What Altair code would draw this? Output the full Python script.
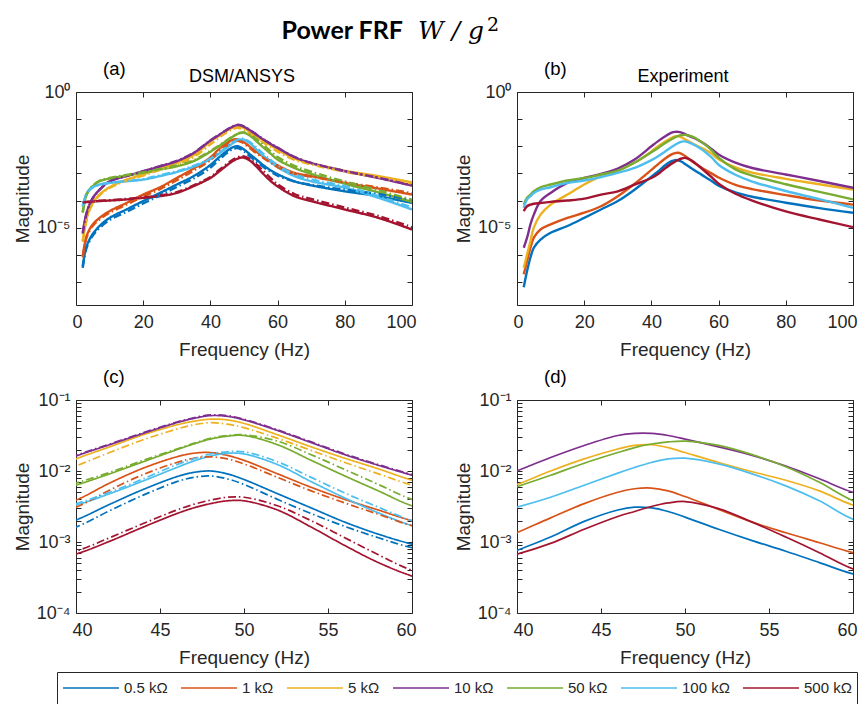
import altair as alt
import pandas as pd

# ---------------- data (log10 of magnitude) -------------
SERIES = ["0.5 kΩ", "1 kΩ", "5 kΩ", "10 kΩ", "50 kΩ", "100 kΩ", "500 kΩ"]
COLORS = ["#0072BD", "#D95319", "#EDB120", "#7E2F8E", "#77AC30", "#4DBEEE", "#A2142F"]

FREQ = [2, 3, 4, 5, 7, 10, 15, 20, 25, 30, 35,
        40, 42, 44, 46, 47, 48, 49, 50, 52, 54, 56, 58, 60,
        65, 70, 80, 90, 100]

# DSM model (solid)
DSM_05K = [-6.42, -5.74, -5.44, -5.23, -4.94, -4.64, -4.33, -4.02, -3.72, -3.41, -3.10,
           -2.69, -2.47, -2.26, -2.08, -2.02, -2.00, -2.04, -2.12, -2.32, -2.52, -2.72, -2.89, -3.03,
           -3.29, -3.44, -3.66, -3.84, -4.09]
DSM_1K = [-6.05, -5.37, -5.07, -4.88, -4.64, -4.39, -4.09, -3.78, -3.51, -3.17, -2.82,
          -2.41, -2.17, -1.96, -1.80, -1.75, -1.74, -1.78, -1.85, -2.04, -2.23, -2.40, -2.55, -2.70,
          -2.98, -3.10, -3.35, -3.56, -3.78]
DSM_5K = [-5.50, -4.76, -4.33, -4.09, -3.78, -3.51, -3.23, -3.04, -2.82, -2.61, -2.33,
          -1.83, -1.66, -1.49, -1.35, -1.30, -1.27, -1.28, -1.33, -1.49, -1.66, -1.82, -1.97, -2.13,
          -2.45, -2.62, -2.90, -3.10, -3.33]
DSM_10K = [-5.19, -4.52, -4.15, -3.90, -3.60, -3.29, -3.10, -2.92, -2.74, -2.55, -2.25,
           -1.79, -1.63, -1.47, -1.32, -1.26, -1.22, -1.23, -1.28, -1.43, -1.60, -1.77, -1.92, -2.06,
           -2.40, -2.62, -2.92, -3.17, -3.45]
DSM_50K = [-4.45, -3.84, -3.60, -3.47, -3.29, -3.19, -3.08, -2.98, -2.86, -2.74, -2.55,
           -2.20, -2.04, -1.87, -1.70, -1.62, -1.55, -1.51, -1.50, -1.63, -1.85, -2.07, -2.28, -2.49,
           -2.80, -3.02, -3.38, -3.70, -4.05]
DSM_100K = [-4.20, -3.78, -3.60, -3.51, -3.41, -3.35, -3.29, -3.23, -3.10, -2.95, -2.75,
            -2.48, -2.32, -2.14, -1.95, -1.86, -1.79, -1.75, -1.76, -1.91, -2.15, -2.38, -2.59, -2.77,
            -3.10, -3.29, -3.53, -3.90, -4.33]
DSM_500K = [-4.09, -4.06, -4.05, -4.04, -4.02, -4.00, -3.96, -3.90, -3.84, -3.72, -3.47,
            -3.17, -2.99, -2.79, -2.60, -2.52, -2.46, -2.42, -2.42, -2.55, -2.79, -3.05, -3.29, -3.48,
            -3.84, -4.02, -4.33, -4.64, -5.07]

# ANSYS model (dash-dot)
ANS_05K = [-6.48, -5.80, -5.50, -5.29, -5.01, -4.72, -4.42, -4.11, -3.81, -3.50, -3.19,
           -2.79, -2.56, -2.34, -2.15, -2.09, -2.07, -2.11, -2.19, -2.40, -2.60, -2.78, -2.94, -3.08,
           -3.30, -3.42, -3.60, -3.76, -3.98]
ANS_1K = [-6.10, -5.42, -5.12, -4.93, -4.70, -4.45, -4.15, -3.85, -3.58, -3.25, -2.90,
          -2.51, -2.27, -2.05, -1.88, -1.82, -1.80, -1.83, -1.90, -2.09, -2.28, -2.45, -2.61, -2.77,
          -3.02, -3.12, -3.33, -3.52, -3.73]
ANS_5K = [-5.52, -4.80, -4.36, -4.12, -3.81, -3.54, -3.27, -3.08, -2.87, -2.67, -2.40,
          -1.93, -1.74, -1.56, -1.41, -1.35, -1.32, -1.34, -1.39, -1.54, -1.71, -1.88, -2.04, -2.20,
          -2.50, -2.67, -2.94, -3.14, -3.37]
ANS_10K = [-5.22, -4.55, -4.17, -3.92, -3.61, -3.30, -3.10, -2.92, -2.73, -2.54, -2.24,
           -1.78, -1.62, -1.46, -1.31, -1.25, -1.21, -1.22, -1.27, -1.42, -1.59, -1.76, -1.91, -2.05,
           -2.39, -2.61, -2.91, -3.16, -3.44]
ANS_50K = [-4.43, -3.82, -3.58, -3.45, -3.27, -3.17, -3.06, -2.96, -2.84, -2.71, -2.52,
           -2.17, -2.02, -1.85, -1.69, -1.61, -1.54, -1.50, -1.49, -1.58, -1.77, -1.98, -2.19, -2.40,
           -2.72, -2.94, -3.30, -3.62, -3.98]
ANS_100K = [-4.22, -3.80, -3.62, -3.52, -3.42, -3.35, -3.28, -3.21, -3.07, -2.92, -2.72,
            -2.46, -2.30, -2.11, -1.91, -1.83, -1.76, -1.73, -1.73, -1.87, -2.09, -2.31, -2.51, -2.70,
            -3.03, -3.22, -3.47, -3.84, -4.26]
ANS_500K = [-4.08, -4.05, -4.04, -4.03, -4.01, -3.99, -3.94, -3.88, -3.81, -3.69, -3.44,
            -3.13, -2.94, -2.74, -2.55, -2.47, -2.41, -2.37, -2.37, -2.49, -2.70, -2.94, -3.18, -3.40,
            -3.76, -3.94, -4.26, -4.57, -4.99]

# Experiment
EXP_05K = [-7.20, -6.60, -6.10, -5.74, -5.44, -5.19, -4.94, -4.64, -4.33, -4.02, -3.60,
           -3.12, -2.93, -2.71, -2.55, -2.51, -2.52, -2.57, -2.65, -2.82, -2.98, -3.13, -3.29, -3.45,
           -3.70, -3.86, -4.08, -4.28, -4.45]
EXP_1K = [-6.72, -6.23, -5.74, -5.37, -5.07, -4.88, -4.64, -4.45, -4.21, -3.84, -3.38,
          -2.87, -2.66, -2.46, -2.30, -2.25, -2.24, -2.28, -2.36, -2.54, -2.72, -2.87, -3.01, -3.15,
          -3.42, -3.58, -3.80, -4.00, -4.15]
EXP_5K = [-6.48, -5.99, -5.50, -5.00, -4.52, -4.15, -3.78, -3.41, -3.10, -2.90, -2.61,
          -2.19, -2.00, -1.83, -1.69, -1.64, -1.63, -1.67, -1.74, -1.88, -2.01, -2.13, -2.28, -2.48,
          -2.78, -2.97, -3.20, -3.40, -3.60]
EXP_10K = [-5.74, -5.37, -4.88, -4.52, -4.02, -3.72, -3.35, -3.17, -3.02, -2.82, -2.49,
           -2.00, -1.81, -1.64, -1.50, -1.47, -1.47, -1.50, -1.55, -1.66, -1.78, -1.93, -2.11, -2.30,
           -2.60, -2.80, -3.04, -3.28, -3.53]
EXP_50K = [-4.15, -3.90, -3.78, -3.66, -3.51, -3.41, -3.26, -3.17, -3.04, -2.90, -2.60,
           -2.22, -2.06, -1.89, -1.74, -1.67, -1.62, -1.59, -1.58, -1.64, -1.77, -1.94, -2.16, -2.42,
           -2.85, -3.08, -3.40, -3.68, -3.96]
EXP_100K = [-4.27, -3.96, -3.84, -3.72, -3.60, -3.51, -3.35, -3.26, -3.14, -2.98, -2.80,
            -2.51, -2.37, -2.20, -2.03, -1.95, -1.88, -1.83, -1.82, -1.90, -2.04, -2.21, -2.42, -2.68,
            -3.05, -3.30, -3.65, -3.95, -4.27]
EXP_500K = [-4.39, -4.21, -4.15, -4.12, -4.09, -4.05, -4.00, -3.93, -3.78, -3.66, -3.41,
            -3.17, -3.02, -2.82, -2.64, -2.57, -2.50, -2.45, -2.43, -2.53, -2.72, -2.93, -3.15, -3.38,
            -3.75, -4.00, -4.40, -4.70, -4.98]

DSM = [DSM_05K, DSM_1K, DSM_5K, DSM_10K, DSM_50K, DSM_100K, DSM_500K]
ANS = [ANS_05K, ANS_1K, ANS_5K, ANS_10K, ANS_50K, ANS_100K, ANS_500K]
EXP = [EXP_05K, EXP_1K, EXP_5K, EXP_10K, EXP_50K, EXP_100K, EXP_500K]

X_TICKS_TOP = [0, 20, 40, 60, 80, 100]
X_TICKS_BOT = [40, 45, 50, 55, 60]
Y_DOM_TOP = [1.41e-8, 1.0]
Y_DOM_BOT = [1e-4, 1e-1]
Y_LAB_TOP = [1e-5, 1.0]
Y_TICK_TOP = [1e-7, 1e-6, 1e-5, 1e-4, 1e-3, 1e-2, 1e-1, 1.0]
Y_LAB_BOT = [1e-4, 1e-3, 1e-2, 1e-1]
Y_TICK_BOT = [m * 10.0 ** e for e in (-4, -3, -2) for m in range(1, 10)] + [1e-1]


def frame(groups, label):
    rows = []
    for name, vals in zip(SERIES, groups):
        for f, v in zip(FREQ, vals):
            rows.append({"freq": f, "mag": 10.0 ** v, "series": name, "model": label})
    return rows


model_df = pd.DataFrame(frame(DSM, "DSM") + frame(ANS, "ANSYS"))
exp_df = pd.DataFrame(frame(EXP, "Experiment"))

FONT = "Liberation Sans"
INK = "#262626"
W, H = 336, 213

LABEL_EXPR = ("datum.value == 1 ? '10⁰' : datum.value < 2e-5 && datum.value > 5e-6 ? '10⁻⁵' : "
              "datum.value > 0.05 ? '10⁻¹' : datum.value > 0.005 ? '10⁻²' : "
              "datum.value > 0.0005 ? '10⁻³' : '10⁻⁴'")


def panel(df, xdom, xticks, ydom, ylabels, yticks, letter, heading, sw, dashed,
          show_legend=False, extra=None):
    xs = alt.Scale(domain=xdom, nice=False, zero=False, padding=0)
    ys = alt.Scale(type="log", domain=ydom, nice=False, padding=0)
    legend = None
    if show_legend:
        legend = alt.Legend(orient="none", legendX=-19, legendY=580, direction="horizontal",
                            columns=7, title=None, symbolType="stroke", symbolSize=3136,
                            clipHeight=22, symbolStrokeWidth=1.6, labelFontSize=15,
                            labelFont=FONT, labelColor=INK, labelOffset=4, columnPadding=12,
                            strokeColor=INK, padding=5)
    enc = dict(
        x=alt.X("freq:Q", scale=xs,
                axis=alt.Axis(orient="bottom", values=xticks, ticks=False, tickSize=0,
                              domain=False, grid=False, labelFont=FONT, labelFontSize=18,
                              labelColor=INK, labelPadding=8, labelFlush=True,
                              labelFlushOffset=4, title="Frequency (Hz)",
                              titleFont=FONT, titleFontSize=19, titleFontWeight="normal",
                              titleColor=INK, titleX=W / 2, titleY=44,
                              titleBaseline="middle", titleAlign="center")),
        y=alt.Y("mag:Q", scale=ys,
                axis=alt.Axis(orient="left", values=ylabels, ticks=False, tickSize=0,
                              domain=False, grid=False, labelFont=FONT, labelFontSize=18,
                              labelColor=INK, labelPadding=6, labelFlush=False,
                              labelExpr=LABEL_EXPR,
                              title="Magnitude", titleFont=FONT, titleFontSize=19,
                              titleFontWeight="normal", titleColor=INK, titleX=-54,
                              titleY=H / 2, titleAngle=270, titleAlign="center",
                              titleBaseline="middle")),
        color=alt.Color("series:N", scale=alt.Scale(domain=SERIES, range=COLORS),
                        legend=legend, sort=SERIES),
    )
    if dashed:
        enc["strokeDash"] = alt.StrokeDash(
            "model:N", scale=alt.Scale(domain=["DSM", "ANSYS"], range=[[1, 0], [8, 3, 1.5, 3]]),
            legend=None)
    lines = alt.Chart(df).mark_line(clip=True, strokeWidth=sw,
                                    interpolate="catmull-rom").encode(**enc)

    tick_df = pd.DataFrame({"freq": [xdom[0]], "mag": [ydom[1]]})

    def tick_layer(xo, yo):
        return alt.Chart(tick_df).mark_point(opacity=0, size=1).encode(
            x=alt.X("freq:Q", scale=xs,
                    axis=alt.Axis(orient=xo, values=xticks, labels=False, domain=False,
                                  grid=False, ticks=True, tickSize=5, offset=-5,
                                  tickColor=INK, title=None)),
            y=alt.Y("mag:Q", scale=ys,
                    axis=alt.Axis(orient=yo, values=yticks, labels=False, domain=False,
                                  grid=False, ticks=True, tickSize=5, offset=-5,
                                  tickColor=INK, title=None)),
        )

    txt = pd.DataFrame({"t": [letter]})
    letter_mark = alt.Chart(txt).mark_text(font=FONT, fontSize=18.5, color="black",
                                           align="left", baseline="middle").encode(
        text="t:N", x=alt.value(27), y=alt.value(-23))
    layers = [lines, tick_layer("bottom", "left"), tick_layer("top", "right"), letter_mark]
    if heading:
        hd = alt.Chart(pd.DataFrame({"t": [heading]})).mark_text(
            font=FONT, fontSize=18, color="black", align="center", baseline="middle").encode(
            text="t:N", x=alt.value(W / 2 - 2), y=alt.value(-15))
        layers.append(hd)
    if extra is not None:
        layers.extend(extra)
    return alt.layer(*layers).resolve_axis(x="independent", y="independent").properties(
        width=W, height=H)


title_a = alt.Chart(pd.DataFrame({"t": ["Power FRF"]})).mark_text(
    font="Lato", fontWeight="bold", fontSize=25, color="black", align="right",
    baseline="alphabetic").encode(text="t:N", x=alt.value(327), y=alt.value(-53))
title_b = alt.Chart(pd.DataFrame({"t": ["W / g"]})).mark_text(
    font="DejaVu Serif", fontStyle="italic", fontSize=25, color="black", align="left",
    baseline="alphabetic").encode(text="t:N", x=alt.value(342), y=alt.value(-53))
title_c = alt.Chart(pd.DataFrame({"t": ["2"]})).mark_text(
    font="DejaVu Serif", fontSize=19, color="black", align="left",
    baseline="alphabetic").encode(text="t:N", x=alt.value(411), y=alt.value(-61))

pa = panel(model_df, [0, 100], X_TICKS_TOP, Y_DOM_TOP, Y_LAB_TOP, Y_TICK_TOP, "(a)",
           "DSM/ANSYS", 2.4, True, show_legend=True, extra=[title_a, title_b, title_c])
pb = panel(exp_df, [0, 100], X_TICKS_TOP, Y_DOM_TOP, Y_LAB_TOP, Y_TICK_TOP, "(b)",
           "Experiment", 2.4, False)
pc = panel(model_df, [40, 60], X_TICKS_BOT, Y_DOM_BOT, Y_LAB_BOT, Y_TICK_BOT, "(c)",
           None, 1.7, True)
pd_ = panel(exp_df, [40, 60], X_TICKS_BOT, Y_DOM_BOT, Y_LAB_BOT, Y_TICK_BOT, "(d)",
            None, 1.7, False)

chart = alt.concat(pa, pb, pc, pd_, columns=2, spacing={"row": 95, "column": 105},
                   bounds="flush").configure_view(
    stroke=INK, strokeWidth=1).properties(
    background="white", padding={"left": 4, "top": 7, "right": 0, "bottom": 0})

chart.save("out.html", embed_options={"renderer": "svg", "actions": False})
